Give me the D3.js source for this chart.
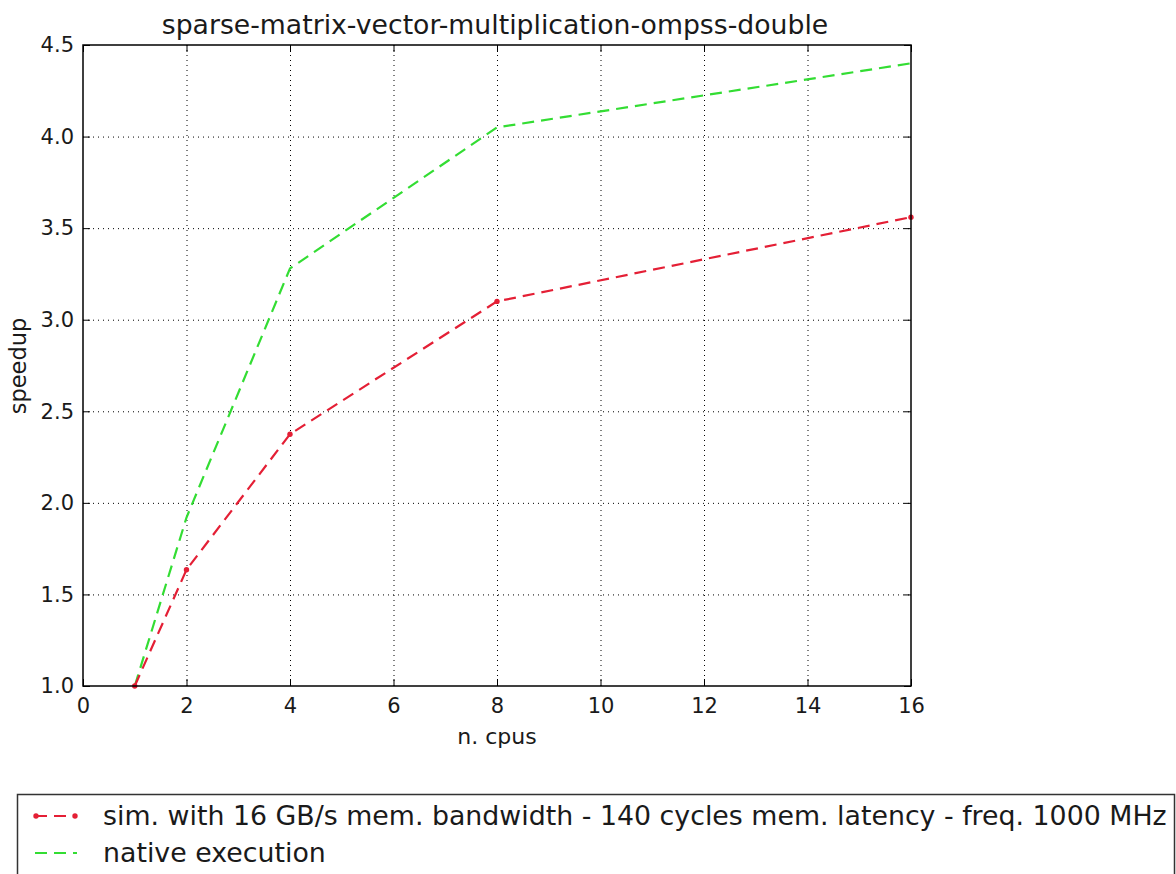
<!DOCTYPE html>
<html>
<head>
<meta charset="utf-8">
<script src="https://cdn.jsdelivr.net/npm/d3@7"></script>
<style>
  body { margin: 0; background: #fff; }
  svg { font-family: "DejaVu Sans", sans-serif; }
</style>
</head>
<body>
<svg width="1176" height="874"></svg>
<script>
const cpus = [1, 2, 4, 8, 16];
const simSpeedup = [1.0, 1.635, 2.375, 3.10, 3.56];
const nativeSpeedup = [1.0, 1.92, 3.28, 4.05, 4.40];
const xTicks = [0, 2, 4, 6, 8, 10, 12, 14, 16];
const yTicks = [1.0, 1.5, 2.0, 2.5, 3.0, 3.5, 4.0, 4.5];
const title = 'sparse-matrix-vector-multiplication-ompss-double';
const legendLabels = [
  'sim. with 16 GB/s mem. bandwidth - 140 cycles mem. latency - freq. 1000 MHz',
  'native execution'
];

const svg = d3.select('svg');
const pLeft = 83, pRight = 911, pTop = 45, pBottom = 686;
const red = '#e41f35';
const green = '#33dd33';
const ink = '#1a1a1a';

const x = d3.scaleLinear().domain([0, 16]).range([pLeft, pRight]);
const y = d3.scaleLinear().domain([1.0, 4.5]).range([pBottom, pTop]);

// grid
const grid = svg.append('g')
  .attr('stroke', '#000')
  .attr('stroke-width', 1)
  .attr('stroke-dasharray', '1,4');
grid.selectAll('.gx')
  .data(xTicks.slice(1, -1))
  .enter()
    .append('line')
    .attr('x1', (d) => x(d) + 0.5)
    .attr('x2', (d) => x(d) + 0.5)
    .attr('y1', pTop)
    .attr('y2', pBottom);
grid.selectAll('.gy')
  .data(yTicks.slice(1, -1))
  .enter()
    .append('line')
    .attr('y1', (d) => y(d) + 0.5)
    .attr('y2', (d) => y(d) + 0.5)
    .attr('x1', pLeft)
    .attr('x2', pRight);

// lines
const line = (vals) => d3.line()
  .x((d, i) => x(cpus[i]))
  .y((d) => y(d))(vals);

const plot = svg.append('g');
plot.append('path')
  .attr('d', line(nativeSpeedup))
  .attr('fill', 'none')
  .attr('stroke', green)
  .attr('stroke-width', 2.2)
  .attr('stroke-dasharray', '12,7');
plot.append('path')
  .attr('d', line(simSpeedup))
  .attr('fill', 'none')
  .attr('stroke', red)
  .attr('stroke-width', 2.2)
  .attr('stroke-dasharray', '12,7');
plot.selectAll('circle')
  .data(simSpeedup)
  .enter()
    .append('circle')
    .attr('cx', (d, i) => x(cpus[i]))
    .attr('cy', (d) => y(d))
    .attr('r', 2.7)
    .attr('fill', red);

// axes, ticks inward on all sides
const tickLen = 7;
const axB = d3.axisBottom(x).tickValues(xTicks).tickSize(-tickLen).tickPadding(12).tickFormat(d3.format('d'));
const axT = d3.axisTop(x).tickValues(xTicks).tickSize(-tickLen).tickFormat('');
const axL = d3.axisLeft(y).tickValues(yTicks).tickSize(-tickLen).tickPadding(9).tickFormat(d3.format('.1f'));
const axR = d3.axisRight(y).tickValues(yTicks).tickSize(-tickLen).tickFormat('');

function styleAxis(g) {
  g.select('.domain').remove();
  g.selectAll('line').attr('stroke', '#000').attr('stroke-width', 1);
  g.selectAll('text').attr('font-size', 21).attr('fill', ink).attr('font-family', '"DejaVu Sans", sans-serif');
}
svg.append('g').attr('transform', `translate(0,${pBottom})`).call(axB).call(styleAxis);
svg.append('g').attr('transform', `translate(0,${pTop})`).call(axT).call(styleAxis);
svg.append('g').attr('transform', `translate(${pLeft},0)`).call(axL).call(styleAxis);
svg.append('g').attr('transform', `translate(${pRight},0)`).call(axR).call(styleAxis);

svg.append('rect')
  .attr('x', pLeft).attr('y', pTop)
  .attr('width', pRight - pLeft).attr('height', pBottom - pTop)
  .attr('fill', 'none').attr('stroke', '#000').attr('stroke-width', 1.5);

// titles
svg.append('text')
  .attr('x', 495).attr('y', 34)
  .attr('text-anchor', 'middle').attr('font-size', 26.7).attr('fill', ink)
  .text(title);
svg.append('text')
  .attr('x', 497).attr('y', 744)
  .attr('text-anchor', 'middle').attr('font-size', 22).attr('fill', ink)
  .text('n. cpus');
svg.append('text')
  .attr('transform', `translate(26,366) rotate(-90)`)
  .attr('text-anchor', 'middle').attr('font-size', 22.5).attr('fill', ink)
  .text('speedup');

// legend
const lg = svg.append('g');
lg.append('rect')
  .attr('x', 17.5).attr('y', 794.5)
  .attr('width', 1157).attr('height', 90)
  .attr('fill', '#fff').attr('stroke', '#333').attr('stroke-width', 1.5);
const legendColors = [red, green];
legendLabels.forEach((label, i) => {
  const ly = 816 + i * 37;
  lg.append('line')
    .attr('x1', 35).attr('x2', 77).attr('y1', ly).attr('y2', ly)
    .attr('stroke', legendColors[i]).attr('stroke-width', 2.2)
    .attr('stroke-dasharray', '12,7');
  if (i === 0) {
    lg.selectAll('.lm').data([36, 75]).enter().append('circle')
      .attr('cx', (d) => d).attr('cy', ly).attr('r', 2.7).attr('fill', red);
  }
  lg.append('text')
    .attr('x', 103).attr('y', ly + 9)
    .attr('font-size', 26.8).attr('fill', ink)
    .text(label);
});
</script>
</body>
</html>
